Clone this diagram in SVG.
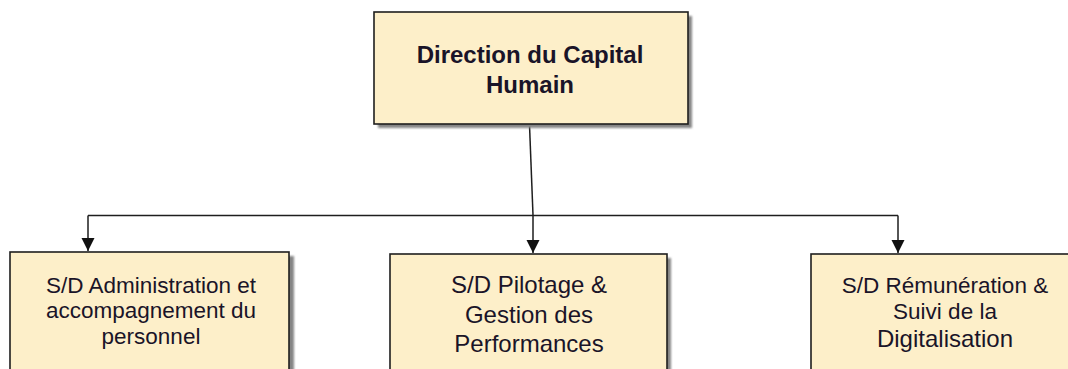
<svg xmlns="http://www.w3.org/2000/svg" width="1068" height="369" viewBox="0 0 1068 369">
<defs>
<style>
.box{fill:#fdefc9;stroke:#1e1e1e;stroke-width:1.6}
.sh{fill:#858585;filter:url(#blur)}
.t{font-family:"Liberation Sans",Arial,sans-serif;fill:#1a1428;text-anchor:middle}
.b{font-weight:bold}
.c{fill:none;stroke:#1e1e1e;stroke-width:1.5}
</style>
<filter id="blur" x="-5%" y="-5%" width="110%" height="110%">
<feGaussianBlur stdDeviation="1"/>
</filter>
<marker id="ah" markerWidth="14" markerHeight="14" refX="13" refY="7" orient="auto" markerUnits="userSpaceOnUse">
<path d="M0,0.5 L13,7 L0,13.5 Z" fill="#111"/>
</marker>
</defs>
<rect width="1068" height="369" fill="#fff"/>
<g id="connectors">
<path class="c" d="M529.5,125 L533,215"/>
<path class="c" d="M88,215.5 L898,215.5"/>
<path class="c" d="M88,215.5 L88,251" marker-end="url(#ah)"/>
<path class="c" d="M533,215.5 L533,253" marker-end="url(#ah)"/>
<path class="c" d="M898,215.5 L898,253" marker-end="url(#ah)"/>
</g>
<g id="n_top">
<rect class="sh" x="378" y="16" width="314" height="112"/>
<rect class="box" x="374" y="12" width="314" height="112"/>
<text class="t b" x="530" y="63" font-size="24">Direction du Capital</text>
<text class="t b" x="530" y="93" font-size="24">Humain</text>
</g>
<g id="n_left">
<rect class="sh" x="14" y="256" width="280" height="120"/>
<rect class="box" x="10" y="252" width="279" height="125"/>
<text class="t" x="151" y="293" font-size="22.5">S/D Administration et</text>
<text class="t" x="151" y="318" font-size="22.5">accompagnement du</text>
<text class="t" x="151" y="344" font-size="22.5">personnel</text>
</g>
<g id="n_mid">
<rect class="sh" x="394" y="258" width="277" height="120"/>
<rect class="box" x="390" y="254" width="277" height="125"/>
<text class="t" x="529" y="293" font-size="24">S/D Pilotage &amp;</text>
<text class="t" x="529" y="323" font-size="24">Gestion des</text>
<text class="t" x="529" y="352" font-size="24">Performances</text>
</g>
<g id="n_right">
<rect class="sh" x="815" y="258" width="280" height="120"/>
<rect class="box" x="811" y="254" width="280" height="125"/>
<text class="t" x="945" y="293" font-size="22.5">S/D Rémunération &amp;</text>
<text class="t" x="945" y="319" font-size="22.5">Suivi de la</text>
<text class="t" x="945" y="347" font-size="24">Digitalisation</text>
</g>
</svg>
